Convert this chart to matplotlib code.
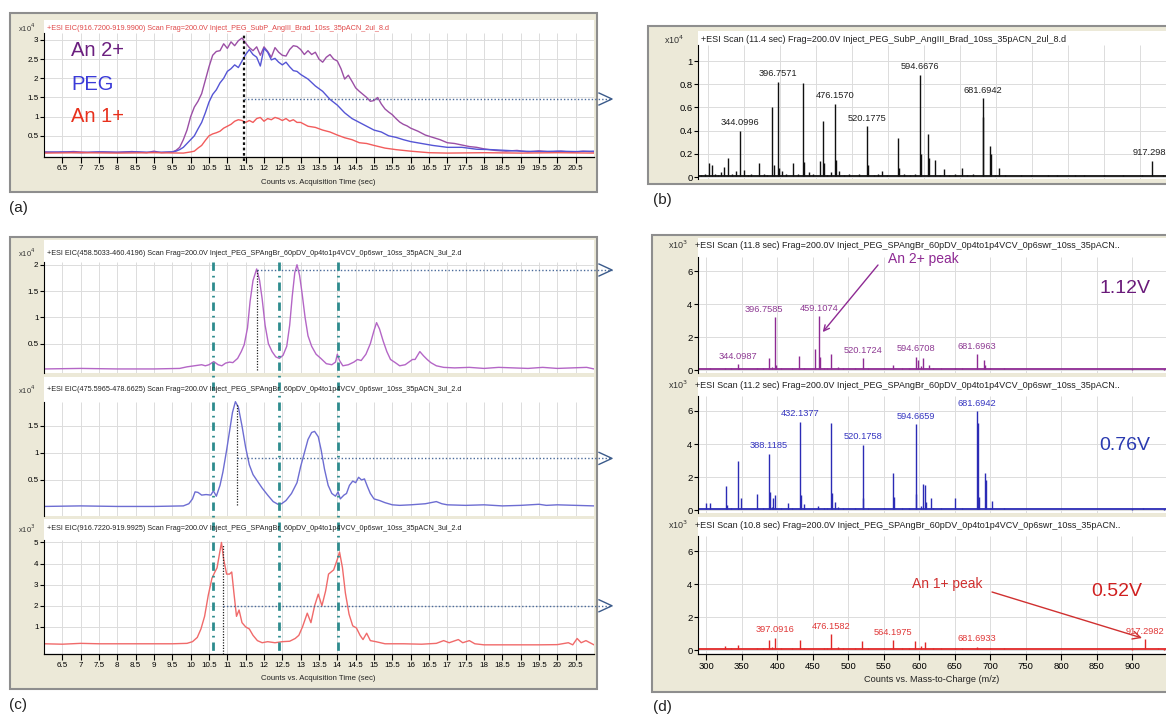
import matplotlib.pyplot as plt
from matplotlib.lines import Line2D
from matplotlib.patches import Rectangle
from matplotlib.transforms import IdentityTransform, blended_transform_factory

plt.rcParams['font.family'] = ['Liberation Sans', 'DejaVu Sans']

W, H = 1166, 715
BEIGE = '#ECE9D8'
GRID = '#DCDCDC'

# ---------------- data ----------------
time_ticks = [6.5, 7, 7.5, 8, 8.5, 9, 9.5, 10, 10.5, 11, 11.5, 12, 12.5, 13, 13.5,
              14, 14.5, 15, 15.5, 16, 16.5, 17, 17.5, 18, 18.5, 19, 19.5, 20, 20.5]
mz_ticks = [300, 350, 400, 450, 500, 550, 600, 650, 700, 750, 800, 850, 900]

# (a) EICs, counts x10^4
a_an2 = [(6.0, 0.08), (6.4, 0.07), (6.8, 0.09), (7.2, 0.07), (7.6, 0.08), (8.0, 0.07), (8.4, 0.09),
         (8.8, 0.06), (9.0, 0.1), (9.2, 0.06), (9.5, 0.08), (9.6, 0.12), (9.7, 0.2), (9.8, 0.4),
         (9.9, 0.65), (10.0, 1.0), (10.1, 1.25), (10.2, 1.4), (10.3, 1.6), (10.4, 1.95), (10.5, 2.3),
         (10.6, 2.6), (10.7, 2.7), (10.8, 2.72), (10.9, 2.9), (11.0, 2.78), (11.1, 2.95), (11.2, 2.85),
         (11.3, 2.98), (11.4, 3.05), (11.5, 2.92), (11.6, 2.8), (11.7, 2.72), (11.8, 2.82), (11.9, 2.6),
         (12.0, 2.82), (12.1, 2.7), (12.2, 2.55), (12.3, 2.8), (12.4, 2.68), (12.5, 2.6), (12.6, 2.58),
         (12.7, 2.75), (12.8, 2.85), (12.9, 2.83), (13.0, 2.75), (13.1, 2.62), (13.2, 2.72), (13.3, 2.62),
         (13.4, 2.68), (13.5, 2.5), (13.6, 2.42), (13.7, 2.55), (13.8, 2.62), (13.9, 2.5), (14.0, 2.45),
         (14.1, 2.25), (14.2, 1.98), (14.3, 2.08), (14.4, 1.92), (14.5, 1.75), (14.6, 1.66), (14.7, 1.58),
         (14.8, 1.5), (14.9, 1.4), (15.0, 1.42), (15.1, 1.5), (15.2, 1.33), (15.3, 1.2), (15.4, 1.12),
         (15.5, 1.05), (15.6, 0.95), (15.7, 0.86), (15.8, 0.8), (15.9, 0.76), (16.0, 0.7), (16.2, 0.62),
         (16.4, 0.52), (16.6, 0.46), (16.8, 0.4), (17.0, 0.32), (17.2, 0.3), (17.4, 0.26), (17.6, 0.22),
         (17.8, 0.2), (18.0, 0.16), (18.3, 0.12), (18.6, 0.1), (18.9, 0.12), (19.2, 0.08), (19.5, 0.11),
         (19.8, 0.08), (20.1, 0.1), (20.4, 0.07), (20.7, 0.1), (21.0, 0.08)]
a_peg = [(6.0, 0.07), (6.5, 0.08), (7.0, 0.06), (7.5, 0.08), (8.0, 0.07), (8.5, 0.08), (9.0, 0.07),
         (9.5, 0.08), (9.6, 0.1), (9.7, 0.14), (9.8, 0.2), (9.9, 0.3), (10.0, 0.4), (10.1, 0.5),
         (10.2, 0.68), (10.3, 0.85), (10.4, 1.1), (10.5, 1.38), (10.6, 1.58), (10.7, 1.7), (10.8, 1.88),
         (10.9, 2.0), (11.0, 2.18), (11.1, 2.25), (11.2, 2.35), (11.3, 2.28), (11.4, 2.45), (11.5, 2.62),
         (11.6, 2.75), (11.7, 2.62), (11.8, 2.55), (11.9, 2.32), (12.0, 2.78), (12.1, 2.68), (12.2, 2.48),
         (12.3, 2.52), (12.4, 2.42), (12.5, 2.35), (12.6, 2.42), (12.7, 2.3), (12.8, 2.2), (12.9, 2.18),
         (13.0, 2.1), (13.2, 1.98), (13.4, 1.8), (13.6, 1.66), (13.8, 1.45), (14.0, 1.3), (14.2, 1.1),
         (14.4, 0.95), (14.6, 0.85), (14.8, 0.75), (15.0, 0.65), (15.2, 0.6), (15.4, 0.5), (15.6, 0.46),
         (15.8, 0.4), (16.0, 0.35), (16.3, 0.3), (16.6, 0.25), (17.0, 0.2), (17.4, 0.2), (17.8, 0.15),
         (18.2, 0.14), (18.6, 0.12), (19.0, 0.1), (19.5, 0.09), (20.0, 0.1), (20.5, 0.09), (21.0, 0.1)]
a_an1 = [(6.0, 0.05), (7.0, 0.06), (8.0, 0.05), (9.0, 0.06), (9.8, 0.05), (10.0, 0.08), (10.1, 0.1),
         (10.2, 0.18), (10.3, 0.25), (10.4, 0.38), (10.5, 0.5), (10.6, 0.55), (10.7, 0.58), (10.8, 0.62),
         (10.9, 0.7), (11.0, 0.75), (11.1, 0.8), (11.2, 0.88), (11.3, 0.92), (11.4, 0.9), (11.5, 0.85),
         (11.6, 0.9), (11.7, 0.85), (11.8, 0.95), (11.9, 0.98), (12.0, 0.88), (12.1, 0.95), (12.2, 0.92),
         (12.3, 0.98), (12.4, 0.95), (12.5, 0.9), (12.6, 0.95), (12.7, 0.88), (12.8, 0.92), (12.9, 0.85),
         (13.0, 0.85), (13.2, 0.75), (13.4, 0.72), (13.6, 0.65), (13.8, 0.6), (14.0, 0.52), (14.2, 0.45),
         (14.4, 0.4), (14.6, 0.32), (14.8, 0.3), (15.0, 0.25), (15.3, 0.18), (15.6, 0.14), (16.0, 0.1),
         (16.5, 0.06), (17.0, 0.05), (18.0, 0.06), (19.0, 0.05), (20.0, 0.06), (21.0, 0.05)]
a_scan = (11.45, 3.12, 1.46)   # scan time, marker top, link level

# (b) spectrum at 11.4 s, counts x10^4
b_peaks = [(300.7, 0.12), (305.4, 0.1), (321.7, 0.09), (327.3, 0.16), (344.1, 0.4), (349.7, 0.06),
           (371.1, 0.12), (387.9, 0.6), (390.7, 0.1), (396.76, 0.82), (398.7, 0.08), (417.8, 0.12),
           (432.3, 0.81), (433.7, 0.13), (454.6, 0.14), (459.3, 0.48), (460.7, 0.12), (476.16, 0.63),
           (477.6, 0.15), (482.0, 0.05), (520.18, 0.44), (521.8, 0.1), (541.0, 0.05), (564.2, 0.34),
           (565.5, 0.08), (594.67, 0.88), (596.0, 0.2), (605.3, 0.37), (607.2, 0.16), (615.6, 0.15),
           (627.2, 0.07), (652.0, 0.08), (681.69, 0.68), (682.4, 0.52), (691.6, 0.27), (693.5, 0.2),
           (704.2, 0.08), (917.3, 0.14)]
b_noise = [(290, 0.02), (295, 0.03), (310, 0.03), (314, 0.02), (318, 0.04), (333, 0.03), (338, 0.05),
           (355, 0.02), (360, 0.03), (378, 0.03), (382, 0.02), (403, 0.05), (408, 0.03), (425, 0.03),
           (440, 0.04), (446, 0.03), (465, 0.02), (470, 0.04), (488, 0.02), (495, 0.03), (510, 0.03),
           (530, 0.02), (536, 0.03), (548, 0.02), (572, 0.03), (580, 0.02), (588, 0.03), (622, 0.02),
           (635, 0.02), (643, 0.03), (660, 0.02), (668, 0.03), (698, 0.02), (712, 0.02), (735, 0.02),
           (748, 0.02), (772, 0.02), (785, 0.02), (810, 0.02), (822, 0.02), (850, 0.02), (876, 0.02),
           (903, 0.02), (925, 0.01), (932, 0.02)]
b_labels = [('344.0996', 344.1), ('396.7571', 396.76), ('476.1570', 476.16), ('520.1775', 520.18),
            ('594.6676', 594.67), ('681.6942', 681.69), ('917.2982', 917.3)]
b_base = 0.012

# (c) EICs at 1.12 V / 0.76 V / 0.52 V
c_an2 = [(6.0, 0.02), (7.0, 0.03), (8.0, 0.02), (9.0, 0.02), (9.7, 0.03), (9.9, 0.06), (10.1, 0.08),
         (10.3, 0.1), (10.4, 0.08), (10.5, 0.1), (10.63, 0.16), (10.75, 0.1), (10.85, 0.08), (10.95, 0.13),
         (11.06, 0.15), (11.15, 0.14), (11.28, 0.22), (11.38, 0.35), (11.46, 0.48), (11.55, 0.8),
         (11.62, 1.3), (11.7, 1.7), (11.8, 1.92), (11.88, 1.7), (11.95, 1.35), (12.03, 0.85), (12.12, 0.5),
         (12.22, 0.35), (12.32, 0.25), (12.42, 0.22), (12.52, 0.28), (12.62, 0.45), (12.7, 0.85),
         (12.77, 1.4), (12.84, 1.85), (12.9, 2.0), (12.97, 1.8), (13.04, 1.45), (13.12, 1.0), (13.2, 0.65),
         (13.3, 0.45), (13.42, 0.3), (13.55, 0.22), (13.7, 0.12), (13.85, 0.1), (13.95, 0.15), (14.0, 0.3),
         (14.06, 0.18), (14.15, 0.08), (14.3, 0.1), (14.45, 0.15), (14.55, 0.2), (14.65, 0.18), (14.78, 0.3),
         (14.9, 0.5), (15.0, 0.75), (15.07, 0.9), (15.15, 0.78), (15.25, 0.55), (15.35, 0.35), (15.45, 0.2),
         (15.58, 0.14), (15.7, 0.08), (15.85, 0.1), (15.95, 0.15), (16.05, 0.2), (16.12, 0.2), (16.25, 0.35),
         (16.35, 0.27), (16.45, 0.2), (16.55, 0.14), (16.7, 0.08), (16.9, 0.05), (17.2, 0.04), (17.6, 0.05),
         (18.0, 0.03), (18.4, 0.05), (18.8, 0.04), (19.2, 0.03), (19.6, 0.05), (20.0, 0.03), (20.4, 0.04),
         (20.8, 0.05), (21.0, 0.02)]
c_peg = [(6.0, 0.01), (7.0, 0.02), (8.0, 0.01), (9.0, 0.01), (9.8, 0.02), (9.95, 0.06), (10.05, 0.15),
         (10.12, 0.28), (10.2, 0.27), (10.3, 0.22), (10.42, 0.23), (10.55, 0.22), (10.62, 0.3), (10.7, 0.2),
         (10.8, 0.4), (10.88, 0.65), (10.98, 1.05), (11.06, 1.4), (11.14, 1.75), (11.22, 1.95), (11.3, 1.85),
         (11.4, 1.5), (11.5, 1.1), (11.6, 0.78), (11.7, 0.6), (11.82, 0.48), (11.95, 0.35), (12.1, 0.22),
         (12.25, 0.1), (12.38, 0.05), (12.48, 0.06), (12.6, 0.12), (12.75, 0.25), (12.9, 0.45), (13.0, 0.75),
         (13.1, 1.0), (13.2, 1.25), (13.3, 1.38), (13.38, 1.4), (13.48, 1.3), (13.56, 1.05), (13.65, 0.7),
         (13.75, 0.4), (13.85, 0.25), (13.95, 0.2), (14.02, 0.28), (14.08, 0.15), (14.18, 0.22), (14.25, 0.25),
         (14.33, 0.4), (14.42, 0.48), (14.5, 0.45), (14.58, 0.55), (14.66, 0.5), (14.74, 0.52), (14.82, 0.38),
         (14.9, 0.25), (15.0, 0.15), (15.15, 0.12), (15.3, 0.08), (15.5, 0.04), (15.7, 0.03), (16.0, 0.04),
         (16.2, 0.05), (16.4, 0.06), (16.55, 0.08), (16.7, 0.1), (16.85, 0.06), (17.0, 0.04), (17.5, 0.03),
         (18.0, 0.04), (18.5, 0.02), (19.0, 0.03), (19.5, 0.05), (19.7, 0.03), (20.0, 0.04), (20.5, 0.03),
         (21.0, 0.02)]
c_an1 = [(6.0, 0.2), (6.5, 0.18), (7.0, 0.22), (7.5, 0.2), (8.0, 0.2), (8.5, 0.2), (9.0, 0.2), (9.5, 0.2),
         (9.9, 0.22), (10.05, 0.3), (10.18, 0.5), (10.28, 0.9), (10.38, 1.5), (10.48, 2.5), (10.58, 3.3),
         (10.66, 3.6), (10.72, 3.8), (10.8, 4.6), (10.84, 5.0), (10.9, 4.2), (10.98, 3.5), (11.06, 3.5),
         (11.12, 3.6), (11.18, 2.6), (11.25, 1.5), (11.32, 1.8), (11.4, 1.2), (11.5, 1.0), (11.6, 0.9),
         (11.7, 0.6), (11.82, 0.35), (11.95, 0.25), (12.1, 0.3), (12.3, 0.25), (12.5, 0.3), (12.7, 0.32),
         (12.85, 0.45), (12.95, 0.6), (13.05, 1.0), (13.18, 1.65), (13.28, 1.2), (13.38, 2.0), (13.48, 2.55),
         (13.58, 2.0), (13.68, 2.7), (13.76, 3.5), (13.9, 3.7), (14.0, 4.2), (14.06, 4.55), (14.14, 3.8),
         (14.22, 2.6), (14.32, 1.6), (14.42, 1.05), (14.52, 0.95), (14.62, 0.6), (14.7, 0.4), (14.8, 0.7),
         (14.9, 0.35), (15.05, 0.3), (15.3, 0.2), (15.8, 0.2), (16.3, 0.18), (16.7, 0.22), (16.9, 0.35),
         (17.05, 0.25), (17.3, 0.4), (17.42, 0.25), (17.6, 0.35), (17.75, 0.2), (18.0, 0.15), (18.5, 0.15),
         (19.0, 0.15), (19.5, 0.15), (20.0, 0.16), (20.3, 0.25), (20.42, 0.15), (20.54, 0.45), (20.65, 0.25),
         (20.78, 0.35), (21.0, 0.15)]
c_windows = [10.62, 12.42, 14.02]
c_scans = [(11.8, 1.92, 0.0, 1.9), (11.25, 1.9, 0.03, 0.9), (10.87, 4.9, -0.28, 2.0)]

# (d) spectra, counts x10^3
d1_peaks = [(305.8, 0.1), (327.0, 0.12), (344.1, 0.35), (346.0, 0.15), (371.0, 0.12), (388.6, 0.7),
            (396.76, 3.2), (398.5, 0.3), (431.0, 0.85), (453.7, 1.25), (459.11, 3.25), (460.8, 0.8),
            (476.0, 0.95), (520.17, 0.7), (563.4, 0.3), (594.67, 0.8), (597.9, 0.6), (605.9, 0.7),
            (613.0, 0.3), (650.0, 0.15), (681.7, 0.95), (691.0, 0.6), (693.0, 0.3)]
d2_peaks = [(299.7, 0.45), (304.5, 0.4), (327.1, 1.45), (328.5, 0.3), (344.1, 3.0), (349.3, 0.7),
            (371.0, 1.0), (388.12, 3.4), (390.0, 1.1), (393.3, 0.75), (396.6, 0.9), (414.6, 0.4),
            (432.14, 5.35), (433.5, 0.9), (437.3, 0.35), (457.1, 0.25), (476.0, 5.3), (477.5, 1.05),
            (480.8, 0.5), (520.18, 3.95), (521.4, 0.75), (563.5, 2.25), (564.9, 0.8), (594.67, 5.2),
            (595.9, 1.0), (605.0, 1.6), (607.4, 1.5), (608.8, 0.5), (615.9, 0.75), (650.9, 0.75),
            (681.69, 6.0), (682.6, 5.3), (683.8, 0.8), (691.9, 2.25), (693.3, 1.8), (702.7, 0.55),
            (915.4, 0.15)]
d3_peaks = [(327.0, 0.25), (344.0, 0.28), (371.0, 0.15), (388.6, 0.6), (396.6, 0.75), (432.1, 0.6),
            (476.0, 0.95), (520.0, 0.55), (563.5, 0.6), (594.2, 0.55), (607.4, 0.5), (650.9, 0.15),
            (681.7, 0.2), (917.3, 0.65), (936.6, 0.1)]
d_noise = [(292, 0.05), (300, 0.08), (312, 0.06), (320, 0.04), (335, 0.1), (352, 0.05), (360, 0.08),
           (366, 0.06), (380, 0.15), (392, 0.2), (405, 0.1), (412, 0.08), (420, 0.1), (438, 0.12),
           (445, 0.08), (466, 0.15), (470, 0.1), (485, 0.2), (492, 0.1), (500, 0.08), (510, 0.12),
           (528, 0.1), (540, 0.08), (550, 0.12), (575, 0.1), (585, 0.15), (602, 0.25), (620, 0.12),
           (630, 0.1), (640, 0.08), (660, 0.1), (670, 0.08), (700, 0.12), (710, 0.08), (720, 0.1),
           (735, 0.06), (750, 0.08), (765, 0.05), (780, 0.06), (800, 0.04), (820, 0.05), (840, 0.04),
           (860, 0.05), (880, 0.04), (900, 0.03), (930, 0.04), (945, 0.03)]
d1_labels = [('344.0987', 344.1), ('396.7585', 396.76), ('459.1074', 459.11), ('520.1724', 520.17),
             ('594.6708', 594.67), ('681.6963', 681.7)]
d2_labels = [('388.1185', 388.12), ('432.1377', 432.14), ('520.1758', 520.18), ('594.6659', 594.67),
             ('681.6942', 681.69)]
d3_labels = [('397.0916', 396.6), ('476.1582', 476.0), ('564.1975', 563.5), ('681.6933', 681.7),
             ('917.2982', 917.3)]
d_base = 0.06

title_a = '+ESI EIC(916.7200-919.9900) Scan Frag=200.0V Inject_PEG_SubP_AngIII_Brad_10ss_35pACN_2ul_8.d'
title_b = '+ESI Scan (11.4 sec) Frag=200.0V Inject_PEG_SubP_AngIII_Brad_10ss_35pACN_2ul_8.d'
run_c = 'Scan Frag=200.0V Inject_PEG_SPAngBr_60pDV_0p4to1p4VCV_0p6swr_10ss_35pACN_3ul_2.d'
titles_c = ['+ESI EIC(458.5033-460.4196) ' + run_c, '+ESI EIC(475.5965-478.6625) ' + run_c,
            '+ESI EIC(916.7220-919.9925) ' + run_c]
run_d = 'Frag=200.0V Inject_PEG_SPAngBr_60pDV_0p4to1p4VCV_0p6swr_10ss_35pACN..'
titles_d = ['+ESI Scan (11.8 sec) ' + run_d, '+ESI Scan (11.2 sec) ' + run_d, '+ESI Scan (10.8 sec) ' + run_d]

# ---------------- drawing ----------------
fig = plt.figure(figsize=(W / 100, H / 100), dpi=100)
fig.patch.set_facecolor('white')


def rect(x0, y0, x1, y1):
    return [x0 / W, 1 - y1 / H, (x1 - x0) / W, (y1 - y0) / H]


def frame(x0, y0, x1, y1):
    fig.add_artist(Rectangle((x0 / W, 1 - y1 / H), (x1 - x0) / W, (y1 - y0) / H,
                             transform=fig.transFigure, facecolor=BEIGE,
                             edgecolor='#8E8E8E', lw=1.5, zorder=-5))


def label(x, y, s, **kw):
    kw.setdefault('va', 'center')
    kw.setdefault('ha', 'left')
    fig.text(x / W, 1 - y / H, s, **kw)


def make_axes(box, xlim, ylim, gtop, xgrid, yticks, ysize):
    ax = fig.add_axes(rect(*box))
    ax.set_xlim(xlim)
    ax.set_ylim(ylim)
    ax.set_facecolor('white')
    for s in ('top', 'right', 'bottom'):
        ax.spines[s].set_visible(False)
    ax.spines['left'].set_bounds(ylim[0], gtop)
    ax.spines['left'].set_linewidth(0.8)
    ax.set_yticks(yticks)
    ax.set_yticklabels([f'{v:g}' for v in yticks], fontsize=ysize)
    ax.set_xticks([])
    ax.tick_params(axis='y', direction='out', length=3, width=0.8, pad=1)
    ax.vlines(xgrid, ylim[0], gtop, color=GRID, lw=0.7, zorder=0)
    ax.hlines(yticks, xlim[0], xlim[1], color=GRID, lw=0.7, zorder=0)
    return ax


def add_xaxis(ax, ticks, size):
    ax.spines['bottom'].set_visible(True)
    ax.spines['bottom'].set_linewidth(0.9)
    ax.set_xticks(ticks)
    ax.set_xticklabels([f'{v:g}' for v in ticks], fontsize=size)
    ax.tick_params(axis='x', direction='out', length=4, width=0.8, pad=1.5)


def link(ax, t, v, x_end=599):
    x0, y0 = ax.transData.transform((t, v))
    fig.add_artist(Line2D([x0, x_end + 13], [y0, y0], transform=IdentityTransform(),
                          color='#4A6A9A', lw=1, ls=(0, (1, 1.5))))
    fig.add_artist(Line2D([x_end, x_end + 13, x_end], [y0 + 6, y0, y0 - 6],
                          transform=IdentityTransform(), color='#3A5A8A', lw=1))


def trace(ax, pts, color, lw=1.0):
    t, v = zip(*pts)
    ax.plot(t, v, color=color, lw=lw)


def spectrum(ax, peaks, noise, base, color, labels, lcolor, size=6.7, shifts=None):
    mz, inten = zip(*(peaks + noise))
    ax.vlines(mz, base, inten, color=color, lw=1.0)
    ax.axhline(base, color=color, lw=1.3)
    heights = dict(peaks)
    shifts = shifts or {}
    for txt, m in labels:
        ax.annotate(txt, (m, heights[m]), xytext=(shifts.get(txt, 0), 2.5), textcoords='offset points',
                    ha='center', va='bottom', fontsize=size, color=lcolor, annotation_clip=False)


# ---- panel (a)
frame(10, 13, 597, 192)
t_lim = (6.0, 21.0)
ax_a = make_axes((44, 20, 594, 157), t_lim, (-0.052, 3.52), 3.18, time_ticks,
                 [0.5, 1, 1.5, 2, 2.5, 3], 5.8)
add_xaxis(ax_a, time_ticks, 5.8)
trace(ax_a, a_an2, '#9B4FA5')
trace(ax_a, a_peg, '#5555D5')
trace(ax_a, a_an1, '#F25C5C')
ax_a.vlines(a_scan[0], -0.15, a_scan[1], colors='#111111', linestyles=(0, (1.2, 1.2)), lw=1.6,
            clip_on=False)
link(ax_a, a_scan[0], a_scan[2])
label(18, 28, 'x10$^{4}$', fontsize=5.5, color='#333333')
label(47, 28, title_a, fontsize=5.2, color='#E04848')
label(71, 51, 'An 2+', fontsize=14.5, color='#6B1F7F')
label(71, 85, 'PEG', fontsize=14.5, color='#3A3AD8')
label(71, 116, 'An 1+', fontsize=14.5, color='#E8301C')
label(318, 182, 'Counts vs. Acquisition Time (sec)', fontsize=5.6, ha='center', color='#222222')
label(9, 208, '(a)', fontsize=11, color='#222222')

# ---- panel (b)
frame(648, 26, 1180, 184)
ax_b = make_axes((698, 31, 1166, 179), (285.7, 936.2), (-0.017, 1.259), 1.14, mz_ticks,
                 [0, 0.2, 0.4, 0.6, 0.8, 1], 6.8)
spectrum(ax_b, b_peaks, b_noise, b_base, '#101010', b_labels, '#202020')
label(664, 40, 'x10$^{4}$', fontsize=6.5, color='#333333')
label(701, 40, title_b, fontsize=6.5, color='#202020')
label(653, 200, '(b)', fontsize=11, color='#222222')

# ---- panel (c)
frame(10, 237, 597, 689)
ax_c1 = make_axes((44, 240, 594, 373), t_lim, (-0.057, 2.47), 2.05, time_ticks, [0.5, 1, 1.5, 2], 5.8)
ax_c2 = make_axes((44, 377, 594, 516), t_lim, (-0.167, 2.407), 1.95, time_ticks, [0.5, 1, 1.5], 5.8)
ax_c3 = make_axes((44, 519, 594, 654), t_lim, (-0.284, 6.11), 5.1, time_ticks, [1, 2, 3, 4, 5], 5.8)
add_xaxis(ax_c3, time_ticks, 5.8)
trace(ax_c1, c_an2, '#B466C6')
trace(ax_c2, c_peg, '#6D6DD2')
trace(ax_c3, c_an1, '#F06A6A')
for ax, (t, top, bot, lvl) in zip((ax_c1, ax_c2, ax_c3), c_scans):
    ax.vlines(t, bot, top, colors='#222222', linestyles=(0, (1, 1.2)), lw=0.9, clip_on=False)
    link(ax, t, lvl)
win_tr = blended_transform_factory(ax_c3.transData, fig.transFigure)
for t in c_windows:
    fig.add_artist(Line2D([t, t], [1 - 262 / H, 1 - 655 / H], transform=win_tr, color='#2E8C8E',
                          lw=2, ls=(0, (3, 1.8, 0.6, 1.8))))
for y, title, mult in zip((253, 390, 529), titles_c, ('4', '4', '3')):
    label(18, y, 'x10$^{%s}$' % mult, fontsize=5.5, color='#333333')
    label(47, y, title, fontsize=5.2, color='#222222')
label(318, 679, 'Counts vs. Acquisition Time (sec)', fontsize=5.6, ha='center', color='#222222')
label(9, 705, '(c)', fontsize=11, color='#222222')

# ---- panel (d)
frame(652, 235, 1180, 692)
mz_lim = (288.3, 947.5)
ax_d1 = make_axes((698, 238, 1166, 373), mz_lim, (-0.18, 8.0), 6.87, mz_ticks, [0, 2, 4, 6], 6.8)
ax_d2 = make_axes((698, 377, 1166, 513), mz_lim, (-0.18, 8.06), 6.9, mz_ticks, [0, 2, 4, 6], 6.8)
ax_d3 = make_axes((698, 517, 1166, 654), mz_lim, (-0.24, 8.06), 6.9, mz_ticks, [0, 2, 4, 6], 6.8)
add_xaxis(ax_d3, mz_ticks, 6.8)
spectrum(ax_d1, d1_peaks, d_noise, d_base, '#8E2A93', d1_labels, '#8E3A93', shifts={'396.7585': -8})
spectrum(ax_d2, d2_peaks, d_noise, d_base, '#2B2BB5', d2_labels, '#3535C0')
spectrum(ax_d3, d3_peaks, d_noise, d_base, '#E02828', d3_labels, '#E03838')
for y, title in zip((245, 385, 525), titles_d):
    label(668, y, 'x10$^{3}$', fontsize=6.5, color='#333333')
    label(695, y, title, fontsize=6.5, color='#202020')

ax_d1.annotate('', xy=(464, 2.3), xytext=(878, H - 265), textcoords='figure pixels',
               arrowprops=dict(arrowstyle='->', color='#8E2A93', lw=1, shrinkA=0, shrinkB=0))
label(923, 259, 'An 2+ peak', fontsize=10, ha='center', color='#8E2A93')
ax_d3.annotate('', xy=(913.7, 0.73), xytext=(992, H - 592), textcoords='figure pixels',
               arrowprops=dict(arrowstyle='->', color='#D03030', lw=1, shrinkA=0, shrinkB=0,
                               mutation_scale=14))
label(947, 584, 'An 1+ peak', fontsize=10, ha='center', color='#D03030')
label(1125, 288, '1.12V', fontsize=14, ha='center', color='#6A1A7A')
label(1125, 445, '0.76V', fontsize=14, ha='center', color='#2A3AB0')
label(1117, 592, '0.52V', fontsize=14, ha='center', color='#D02020')
label(932, 680, 'Counts vs. Mass-to-Charge (m/z)', fontsize=6.6, ha='center', color='#222222')
label(653, 707, '(d)', fontsize=11, color='#222222')

fig.savefig('out.png', dpi=100)
